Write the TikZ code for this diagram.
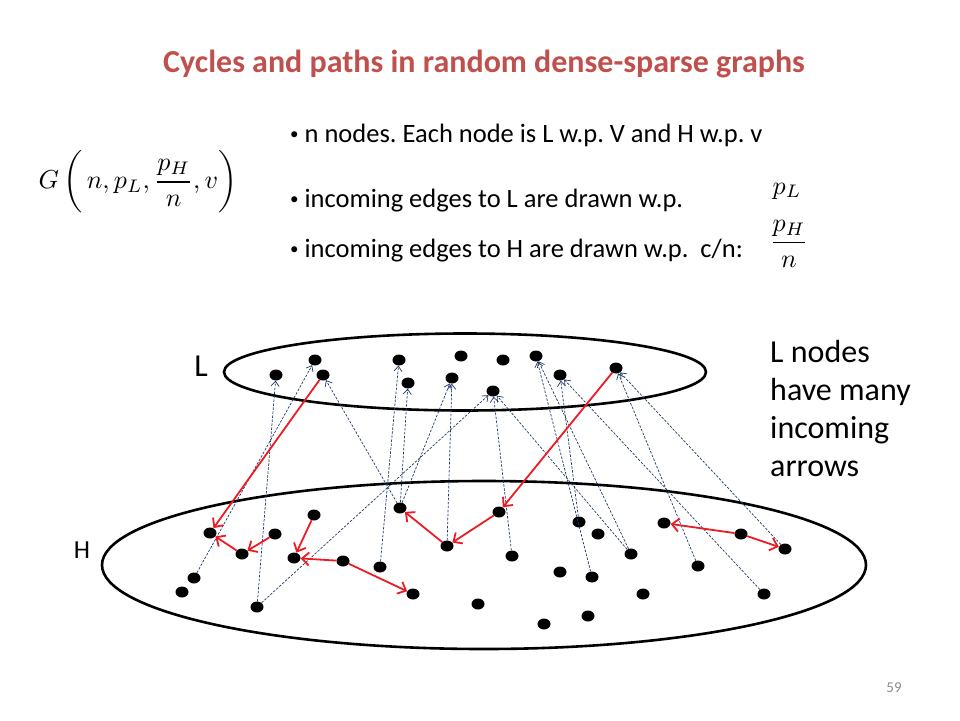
\documentclass[tikz,border=0pt]{standalone}
\usepackage{amsmath}
\usepackage{fontspec}
\setmainfont{Carlito}
\usetikzlibrary{shapes.geometric,arrows.meta}

\definecolor{titlered}{RGB}{192,80,77}
\definecolor{pathred}{RGB}{236,28,36}
\definecolor{edgeblue}{RGB}{31,56,100}
\definecolor{pagegray}{RGB}{140,140,140}

\newcommand{\itembul}{\raisebox{3pt}{\fontsize{17}{17}\selectfont\textbullet}\hspace{6pt}}

\begin{document}
\frenchspacing
\begin{tikzpicture}
[
	x					= 1pt,
	y					= -1pt, % one unit is one pixel, y runs down
	dot/.style			=
	{
		ellipse,
		fill			= black,
		inner sep		= 0pt,
		minimum width	= 13pt,
		minimum height	= 11pt
	},
	ring/.style			= {draw, line width = 2.6pt},
	red edge/.style		=
	{
		pathred,
		line width		= 1.8pt,
		-{Straight Barb[length = 7pt, width = 13pt]}
	},
	blue edge/.style	=
	{
		edgeblue,
		line width		= 0.7pt,
		dash pattern	= on 2.5pt off 1.5pt,
		-{Straight Barb[length = 5pt, width = 8pt]}
	},
	bullet text/.style	=
	{
		anchor			= base west,
		inner sep		= 0pt,
		font			= \fontsize{26.5}{31}\selectfont
	},
	big math/.style		= {scale = 2.6, inner sep = 0pt},
]

\useasboundingbox (0,0) rectangle (960,720);

% title and the model
\node [anchor = base, inner sep = 0pt, text = titlered, font = \fontsize{32}{38}\selectfont\bfseries]
	(title) at (484,72) {Cycles and paths in random dense-sparse graphs};

\node [big math] (model) at (138,182) {$\displaystyle G\,\biggl(\,n,p_L,\frac{p_H}{n},v\biggr)$};

\node [bullet text] (rule1) at (290,142) {\itembul n nodes. Each node is L w.p. V and H w.p. v};
\node [bullet text] (rule2) at (290,207) {\itembul incoming edges to L are drawn w.p.};
\node [bullet text] (rule3) at (290,257) {\itembul incoming edges to H are drawn w.p.\ \ c/n:};

\node [big math] (pL)  at (787,191) {$p_L$};
\node [big math] (pHn) at (789,244) {$\displaystyle\frac{p_H}{n}$};

% the two layers
\draw [ring] (465,372) ellipse [x radius = 241pt, y radius = 38.5pt];
\draw [ring] (484,565) ellipse [x radius = 382pt, y radius = 84pt];

\node [anchor = base, inner sep = 0pt, font = \fontsize{32}{38}\selectfont] (labL) at (201,376) {L};
\node [anchor = base, inner sep = 0pt, font = \fontsize{26}{30}\selectfont] (labH) at (82,558) {H};

\node [anchor = north west, inner sep = 0pt, align = left, font = \fontsize{32}{38}\selectfont]
	(note) at (770,340) {L nodes\\have many\\incoming\\arrows};

\node [anchor = base, inner sep = 0pt, text = pagegray, font = \fontsize{15}{18}\selectfont]
	(page) at (894,692) {59};

% L nodes
\foreach \name/\x/\y in
{
	l1/276/375, l2/315/360, l3/323/375, l4/399/360, l5/408/383, l6/452/378,
	l7/461/356, l8/503/360, l9/493/391, l10/536/356, l11/560/375, l12/616/368}
{
	\node [dot] (\name) at (\x,\y) {};
}

% H nodes
\foreach \name/\x/\y in
{
	h1/210/533, h2/242/554, h3/275/534, h4/194/578, h5/182/592, h6/257/607,
	h7/314/515, h8/294/558, h9/343/561, h10/380/567, h11/400/508, h12/447/546,
	h13/499/512, h14/512/556, h15/413/594, h16/478/604, h17/544/624, h18/579/522,
	h19/598/534, h20/560/572, h21/592/577, h22/631/554, h23/588/616, h24/643/594,
	h25/664/523, h26/698/566, h27/741/534, h28/785/549, h29/764/594}
{
	\node [dot] (\name) at (\x,\y) {};
}

% incoming edges of L, dashed
\foreach \from/\to in
{
	h4/l2, h6/l1, h6/l9, h10/l4, h11/l3, h11/l5, h11/l6, h12/l6,
	h14/l9, h22/l9, h22/l10, h21/l10, h18/l11, h29/l11, h26/l12, h28/l12}
{
	\draw [blue edge] (\from) -- (\to);
}

% the paths, red
\draw [red edge] (l3) -- (h1);
\draw [red edge] (h3) -- (h2);
\draw [red edge] (h2) -- (h1);
\draw [red edge] (h7) -- (h8);
\draw [red edge] (h9) -- (h8);
\draw [red edge] (h9) -- (h15);
\draw [red edge] (l12) -- (h13);
\draw [red edge] (h13) -- (h12);
\draw [red edge] (h12) -- (h11);
\draw [red edge] (h27) -- (h25);
\draw [red edge] (h27) -- (h28);

\end{tikzpicture}
\end{document}
